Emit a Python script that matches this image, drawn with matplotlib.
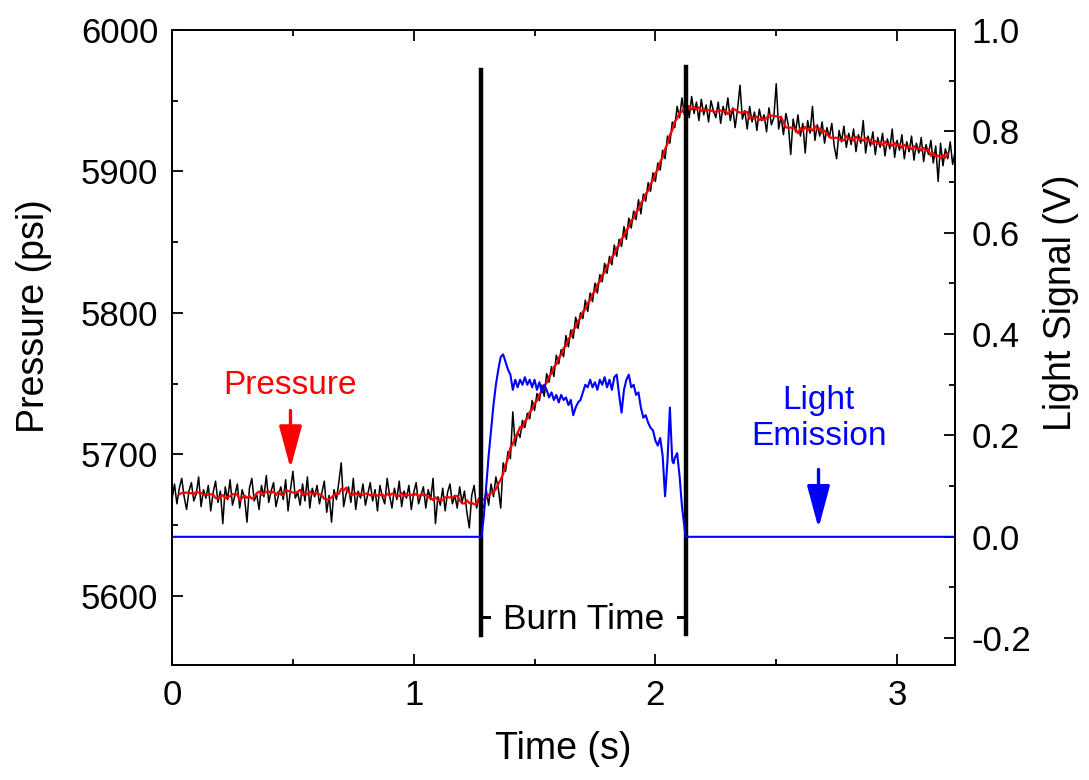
import numpy as np
import matplotlib
matplotlib.use('Agg')
import matplotlib.pyplot as plt
from matplotlib.ticker import MultipleLocator

plt.rcParams['font.family'] = ['Liberation Sans', 'DejaVu Sans']

# ---- data ----
# pressure trace sampled every 0.01 s, from 0.00 to 3.24 s
t_step = 0.01
pressure_psi = [
    # 0.00 - 1.28 s, before ignition
    5668, 5679, 5665, 5676, 5683, 5670, 5661, 5674, 5680, 5667,
    5672, 5684, 5663, 5675, 5669, 5678, 5660, 5673, 5681, 5666,
    5674, 5651, 5677, 5668, 5682, 5664, 5671, 5679, 5662, 5675,
    5669, 5652, 5676, 5683, 5667, 5672, 5661, 5678, 5670, 5685,
    5666, 5674, 5680, 5663, 5671, 5677, 5668, 5682, 5660, 5675,
    5688, 5669, 5673, 5664, 5679, 5667, 5684, 5662, 5676, 5670,
    5678, 5665, 5673, 5681, 5659, 5671, 5652, 5675, 5668, 5680,
    5694, 5663, 5672, 5677, 5666, 5683, 5661, 5674, 5669, 5679,
    5664, 5672, 5680, 5667, 5675, 5660, 5678, 5670, 5665, 5683,
    5671, 5662, 5676, 5668, 5681, 5663, 5674, 5669, 5678, 5661,
    5673, 5680, 5665, 5671, 5677, 5662, 5675, 5668, 5683, 5651,
    5670, 5664, 5676, 5660, 5673, 5679, 5665, 5671, 5662, 5677,
    5666, 5674, 5659, 5648, 5671, 5678, 5662, 5669, 5665,
    # 1.29 - 2.12 s, burning
    5662, 5675, 5664, 5679, 5670, 5684, 5676, 5662, 5694, 5688,
    5702, 5697, 5730, 5706, 5716, 5712, 5724, 5719, 5729, 5725,
    5738, 5731, 5743, 5738, 5749, 5741, 5757, 5751, 5762, 5755,
    5770, 5764, 5774, 5769, 5784, 5776, 5788, 5782, 5797, 5789,
    5800, 5796, 5809, 5801, 5814, 5808, 5821, 5814, 5827, 5822,
    5835, 5828, 5840, 5834, 5848, 5840, 5852, 5847, 5861, 5852,
    5867, 5860, 5872, 5866, 5880, 5870, 5884, 5879, 5892, 5886,
    5899, 5893, 5906, 5901, 5915, 5909, 5925, 5920, 5935, 5931,
    5946, 5938, 5952, 5940,
    # 2.13 - 3.24 s, after burnout
    5950, 5938, 5953, 5941, 5949, 5936, 5951, 5940, 5947, 5935,
    5950, 5943, 5938, 5949, 5934, 5946, 5940, 5952, 5936, 5945,
    5931, 5944, 5961, 5937, 5943, 5930, 5946, 5935, 5942, 5929,
    5944, 5936, 5940, 5928, 5945, 5933, 5938, 5962, 5930, 5939,
    5926, 5941, 5933, 5912, 5937, 5928, 5940, 5925, 5934, 5913,
    5936, 5927, 5946, 5922, 5933, 5925, 5935, 5920, 5931, 5924,
    5934, 5918, 5909, 5929, 5921, 5932, 5917, 5927, 5919, 5930,
    5914, 5926, 5920, 5936, 5913, 5925, 5918, 5928, 5912, 5924,
    5917, 5927, 5911, 5923, 5916, 5930, 5910, 5922, 5915, 5926,
    5909, 5921, 5914, 5925, 5908, 5920, 5913, 5924, 5907, 5919,
    5912, 5922, 5906, 5918, 5893, 5920, 5904, 5916, 5909, 5921,
    5905, 5914,
]

# light signal during the burn (V)
light_t = [0.0, 1.28, 1.29, 1.30, 1.31, 1.32, 1.33, 1.34, 1.35, 1.36, 1.37,
           1.38, 1.39, 1.40, 1.41, 1.42, 1.43, 1.44, 1.45, 1.46, 1.47,
           1.48, 1.49, 1.50, 1.51, 1.52, 1.53, 1.54, 1.55, 1.56, 1.57,
           1.58, 1.59, 1.60, 1.61, 1.62, 1.63, 1.64, 1.65, 1.66, 1.67,
           1.68, 1.69, 1.70, 1.71, 1.72, 1.73, 1.74, 1.75, 1.76, 1.77,
           1.78, 1.79, 1.80, 1.81, 1.82, 1.83, 1.84, 1.85, 1.86, 1.87,
           1.88, 1.89, 1.90, 1.91, 1.92, 1.93, 1.94, 1.95, 1.96, 1.97,
           1.98, 1.99, 2.00, 2.01, 2.02, 2.03, 2.04, 2.05, 2.06, 2.065,
           2.07, 2.075, 2.08, 2.09, 2.10, 2.11, 2.12, 2.125, 3.24]
light_v = [0.0, 0.0, 0.04, 0.10, 0.16, 0.21, 0.26, 0.30, 0.33, 0.355, 0.36,
           0.345, 0.33, 0.32, 0.29, 0.31, 0.295, 0.31, 0.30, 0.315, 0.30,
           0.31, 0.295, 0.31, 0.29, 0.305, 0.285, 0.30, 0.29, 0.275, 0.285,
           0.27, 0.28, 0.265, 0.28, 0.27, 0.275, 0.26, 0.27, 0.24, 0.255,
           0.265, 0.27, 0.285, 0.30, 0.295, 0.31, 0.295, 0.305, 0.29, 0.31,
           0.30, 0.315, 0.295, 0.31, 0.29, 0.315, 0.32, 0.28, 0.245, 0.29,
           0.31, 0.32, 0.295, 0.30, 0.28, 0.285, 0.255, 0.235, 0.24, 0.225,
           0.215, 0.21, 0.19, 0.18, 0.195, 0.16, 0.08, 0.15, 0.255, 0.20,
           0.15, 0.145, 0.155, 0.165, 0.12, 0.06, 0.02, 0.0, 0.0]

burn_start = 1.28
burn_end = 2.125


def smooth(y, n=7):
    # running mean, like the red fit in the original
    k = np.ones(n) / n
    return np.convolve(y, k, mode='valid')


def run():
    p = np.array(pressure_psi, dtype=float)
    t = np.arange(len(p)) * t_step
    ps = smooth(p)
    half = 3
    ts = t[half:len(t) - half]

    fig = plt.figure(figsize=(10.89, 7.8), dpi=100)
    ax = fig.add_axes([0.158, 0.1474, 0.719, 0.8141])
    ax2 = ax.twinx()

    ax.plot(t, p, color='black', lw=1.1, zorder=2)
    ax.plot(ts, ps, color='red', lw=1.6, zorder=3)
    ax2.plot(light_t, light_v, color='blue', lw=1.5)

    # burn time markers
    ax.plot([burn_start, burn_start], [5572, 5972], color='black', lw=3.2, zorder=4)
    ax.plot([burn_end, burn_end], [5573, 5974], color='black', lw=3.2, zorder=4)
    ax.plot([burn_start, burn_start + 0.03], [5585, 5585], color='black', lw=2.2)
    ax.plot([burn_end - 0.03, burn_end], [5585, 5585], color='black', lw=2.2)
    ax.text((burn_start + burn_end) / 2, 5583, 'Burn Time', ha='center', va='center',
            fontsize=25.5)

    # annotations
    arrow_style = '-|>,head_length=1.3,head_width=0.35'
    ax.text(0.49, 5749, 'Pressure', color='red', ha='center', va='center', fontsize=24)
    ax.annotate('', xy=(0.49, 5690), xytext=(0.49, 5731),
                arrowprops=dict(arrowstyle=arrow_style, color='red', lw=2.4,
                                mutation_scale=20, shrinkA=0, shrinkB=0))
    ax2.text(2.675, 0.234, 'Light\nEmission', color='blue', ha='center', va='center',
             fontsize=24, linespacing=1.2)
    ax2.annotate('', xy=(2.675, 0.017), xytext=(2.675, 0.133),
                 arrowprops=dict(arrowstyle=arrow_style, color='blue', lw=2.4,
                                 mutation_scale=20, shrinkA=0, shrinkB=0))

    ax.set_xlim(0, 3.24)
    ax.set_ylim(5551, 6000)
    ax2.set_ylim(-0.253, 1.0)

    ax.xaxis.set_major_locator(MultipleLocator(1))
    ax.xaxis.set_minor_locator(MultipleLocator(0.5))
    ax.yaxis.set_major_locator(MultipleLocator(100))
    ax.yaxis.set_minor_locator(MultipleLocator(50))
    ax2.yaxis.set_minor_locator(MultipleLocator(0.1))
    ax2.set_yticks([-0.2, 0.0, 0.2, 0.4, 0.6, 0.8, 1.0])
    ax2.set_yticklabels(['-0.2', '0.0', '0.2', '0.4', '0.6', '0.8', '1.0'])

    ax.tick_params(which='both', direction='in', top=True, right=False, width=1.3,
                   labelsize=25, pad=10)
    ax.tick_params(which='major', length=8)
    ax.tick_params(which='minor', length=4)
    ax2.tick_params(which='both', direction='in', width=1.3, labelsize=25, pad=12)
    ax2.tick_params(which='major', length=8)
    ax2.tick_params(which='minor', length=4)
    for a in (ax, ax2):
        for s in a.spines.values():
            s.set_linewidth(1.3)

    ax.set_xlabel('Time (s)', fontsize=27, labelpad=14)
    ax.set_ylabel('Pressure (psi)', fontsize=27)
    ax.yaxis.set_label_coords(-0.153, 0.55)
    ax2.set_ylabel('Light Signal (V)', fontsize=27)
    ax2.yaxis.set_label_coords(1.112, 0.57)

    fig.savefig('out.png', dpi=100)


if __name__ == '__main__':
    run()
